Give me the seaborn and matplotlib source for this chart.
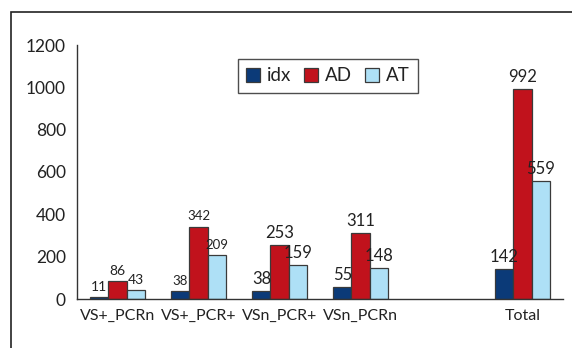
import matplotlib
matplotlib.use("Agg")
import matplotlib.pyplot as plt
import seaborn as sns
import numpy as np
import pandas as pd
from matplotlib.patches import Rectangle

# data
categories = ["VS+_PCRn", "VS+_PCR+", "VSn_PCR+", "VSn_PCRn", "", "Total"]
series = ["idx", "AD", "AT"]
idx_vals = [11, 38, 38, 55, None, 142]
ad_vals = [86, 342, 253, 311, None, 992]
at_vals = [43, 209, 159, 148, None, 559]
yticks = [0, 200, 400, 600, 800, 1000, 1200]

colors = ["#0b3a78", "#c1121c", "#aee0f6"]
# value label font sizes, per series (the source mixes small and large)
label_sizes = {
    "idx": [10, 9.5, 12, 12, 12],
    "AD": [10, 9.5, 12, 12, 12],
    "AT": [10, 9.5, 12, 12, 12],
}

rows = []
for name, vals in zip(series, [idx_vals, ad_vals, at_vals]):
    for cat, v in zip(categories, vals):
        if v is not None:
            rows.append({"cat": cat, "series": name, "value": v})
df = pd.DataFrame(rows)

sns.set_style("white")
plt.rcParams["font.family"] = ["Lato", "DejaVu Sans"]
txt = "#222222"

fig = plt.figure(figsize=(5.72, 3.48), dpi=100)
ax = fig.add_axes([77 / 572, 1 - 299 / 348, 486 / 572, 254 / 348])

sns.barplot(data=df, x="cat", y="value", hue="series", order=categories,
            hue_order=series, palette=colors, width=0.67, ax=ax,
            edgecolor="#3a3a3a", linewidth=0.9, saturation=1, errorbar=None)

all_vals = dict(zip(series, [idx_vals, ad_vals, at_vals]))
for cont, name in zip(ax.containers, series):
    vals = [v for v in all_vals[name] if v is not None]
    texts = ax.bar_label(cont, labels=[str(v) for v in vals], padding=3, color=txt)
    for t, s in zip(texts, label_sizes[name]):
        t.set_fontsize(s)

ax.set_ylim(0, 1200)
ax.set_xlim(-0.5, len(categories) - 0.5)
ax.set_yticks(yticks)
ax.set_yticklabels([str(v) for v in yticks], fontsize=12.5, color=txt)
ax.set_xticks(np.arange(-0.5, len(categories), 1))
ax.set_xticklabels([])
ax.set_xticks(np.arange(len(categories)), minor=True)
ax.set_xticklabels(categories, minor=True, fontsize=11.5, color=txt)
ax.tick_params(axis="x", which="major", length=6, width=1, color="#333333", direction="out")
ax.tick_params(axis="x", which="minor", length=0, pad=7)
ax.tick_params(axis="y", length=5, width=1, color="#333333", direction="out", pad=3)
ax.set_xlabel("")
ax.set_ylabel("")
for side in ["top", "right"]:
    ax.spines[side].set_visible(False)
for side in ["left", "bottom"]:
    ax.spines[side].set_color("#333333")
    ax.spines[side].set_linewidth(1)

leg = ax.legend(loc="center", bbox_to_anchor=(0.516, 0.878), ncol=3, frameon=True,
                fancybox=False, edgecolor="#222222", fontsize=13.5, handlelength=0.75,
                handleheight=0.75, handletextpad=0.35, columnspacing=0.7,
                borderpad=0.45, title=None)
leg.get_frame().set_linewidth(1)
for t in leg.get_texts():
    t.set_color(txt)

# outer frame of the source image
fig.patches.append(Rectangle((11 / 572, -0.1), 1.2, 1 - 12 / 348 + 0.1,
                             transform=fig.transFigure, fill=False,
                             edgecolor="#222222", linewidth=1.2))

fig.savefig("out.png", dpi=100)
